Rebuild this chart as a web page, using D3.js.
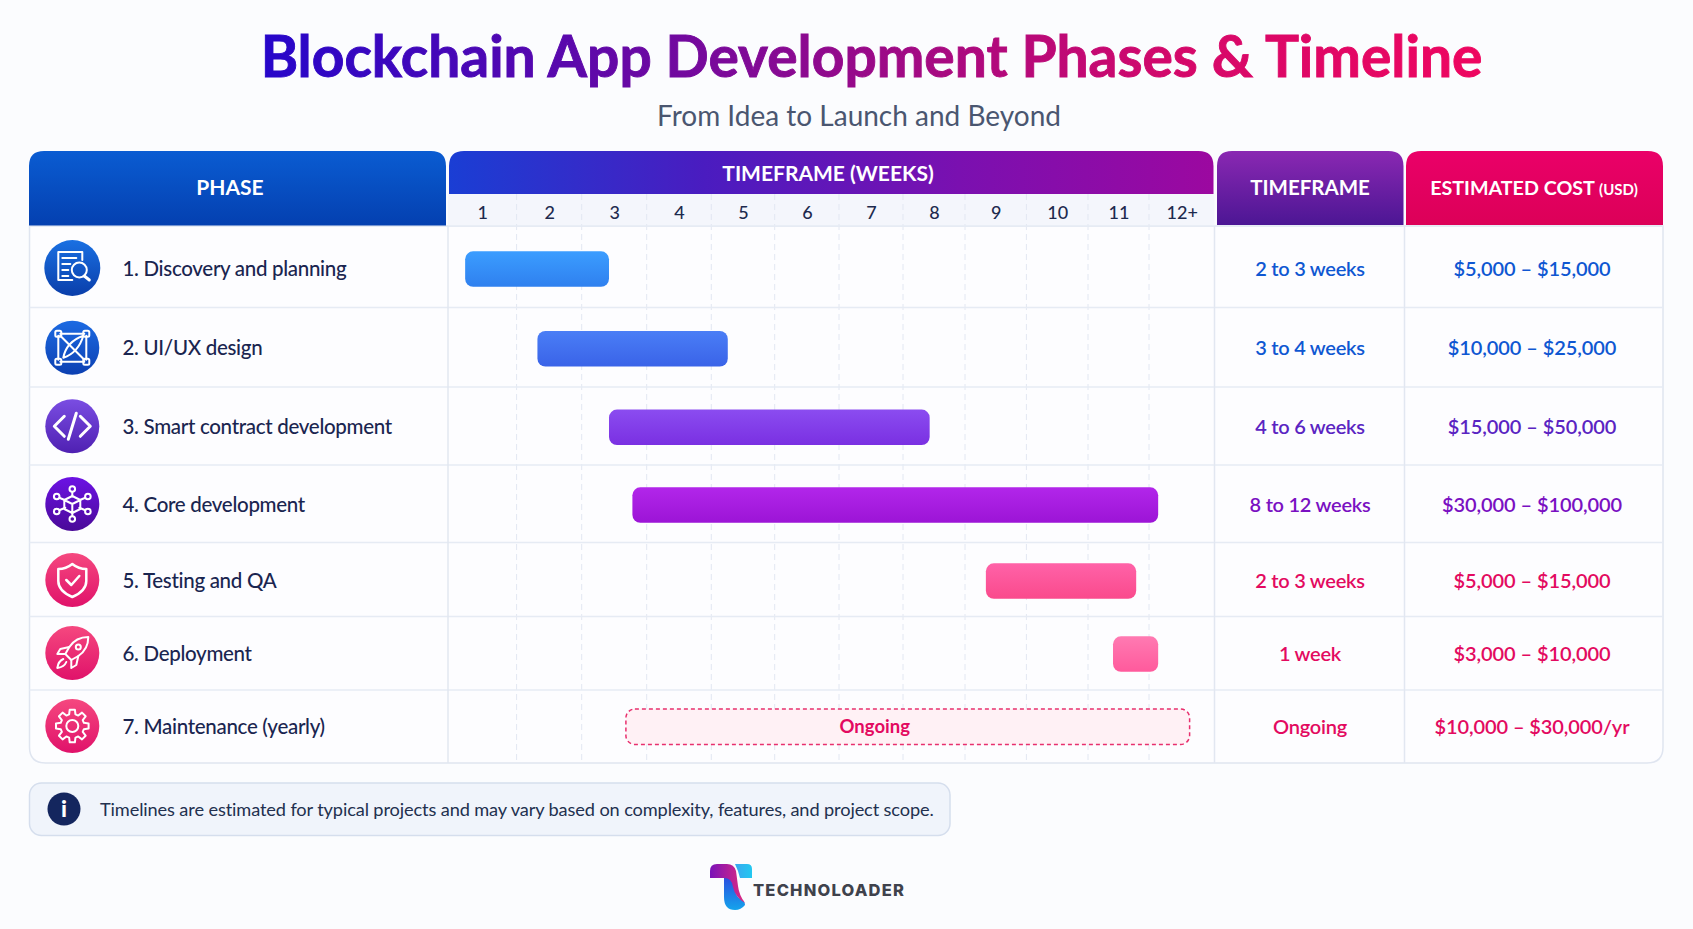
<!DOCTYPE html>
<html>
<head>
<meta charset="utf-8">
<title>Blockchain App Development Phases & Timeline</title>
<script src="https://cdn.jsdelivr.net/npm/d3@7"></script>
<style>
  html, body { margin: 0; padding: 0; background: #fbfcfe; }
  svg { display: block; font-family: Lato, "Noto Sans", sans-serif; }
</style>
</head>
<body>
<svg id="chart" width="1693" height="929"></svg>
<script>
// chart data
const phases = ['1. Discovery and planning', '2. UI/UX design', '3. Smart contract development', '4. Core development', '5. Testing and QA', '6. Deployment', '7. Maintenance (yearly)'];
const weekLabels = ['1', '2', '3', '4', '5', '6', '7', '8', '9', '10', '11', '12+'];
const startWeeks = [0.25, 1.32, 2.42, 2.78, 8.34, 10.41, 2.68];
const endWeeks = [2.42, 4.26, 7.43, 11.14, 10.79, 11.14, 11.62];
const timeframes = ['2 to 3 weeks', '3 to 4 weeks', '4 to 6 weeks', '8 to 12 weeks', '2 to 3 weeks', '1 week', 'Ongoing'];
const costs = ['$5,000 – $15,000', '$10,000 – $25,000', '$15,000 – $50,000', '$30,000 – $100,000', '$5,000 – $15,000', '$3,000 – $10,000', '$10,000 – $30,000/yr'];
const barStatus = ['solid', 'solid', 'solid', 'solid', 'solid', 'solid', 'ongoing'];

// styles, one per row
const barTop = ['#3b9dff', '#4a7ef6', '#8b4cf0', '#b226ea', '#ff62a8', '#ff7ab2', '#fff1f5'];
const barBottom = ['#2f80ef', '#3a63e8', '#7a30e2', '#9c14d6', '#fa4a8c', '#ff5a9c', '#fff1f5'];
const iconTop = ['#1a70e2', '#1c6ae2', '#7a4de2', '#6c12e4', '#f5487f', '#f5487f', '#f5487f'];
const iconBottom = ['#0a3eaa', '#0c40b2', '#4f20b2', '#4a0a98', '#e0126a', '#e0126a', '#e0126a'];
const textColors = ['#0f57d2', '#0f57d2', '#5a24c2', '#7a10c2', '#e30a60', '#e30a60', '#e30a60'];

// layout (the source image has slightly uneven columns and rows)
const weekEdges = [448, 516.6, 581.7, 646.7, 711.3, 774.7, 839, 903, 965, 1026.4, 1088, 1149, 1214.5];
const rowEdges = [226, 307.5, 387, 465, 542.4, 616.4, 690, 763];
const rowCenters = [269, 348.7, 427.3, 505, 581, 654, 727];
const tableLeft = 29.5, tableRight = 1663, tableTop = 151;
const colTimeframe = 1214.5, colCost = 1404.5;

const svg = d3.select('#chart');
const defs = svg.append('defs');

const x = d3.scaleLinear().domain(d3.range(weekEdges.length)).range(weekEdges);
const rowMid = d3.scaleOrdinal().domain(d3.range(phases.length)).range(rowCenters);

function linearGradient(id, stops, horizontal, coords) {
  const g = defs.append('linearGradient').attr('id', id);
  if (coords) {
    g.attr('gradientUnits', 'userSpaceOnUse').attr('x1', coords[0]).attr('x2', coords[1]).attr('y1', 0).attr('y2', 0);
  } else if (horizontal) {
    g.attr('x1', 0).attr('x2', 1).attr('y1', 0).attr('y2', 0);
  } else {
    g.attr('x1', 0).attr('x2', 0).attr('y1', 0).attr('y2', 1);
  }
  stops.forEach((c, i) => g.append('stop').attr('offset', i / (stops.length - 1)).attr('stop-color', c));
}

linearGradient('titleGrad', ['#2606ca', '#5a08ac', '#9a0a88', '#d4086a', '#ee0660'], true, [262, 1481]);
linearGradient('phaseHead', ['#0a5cd2', '#0440b0']);
linearGradient('weeksHead', ['#1a3ed4', '#4a1cc0', '#7a10b0', '#9c08a0'], true);
linearGradient('tfHead', ['#8a28b2', '#4c1694']);
linearGradient('costHead', ['#ea0068', '#dc0058']);
linearGradient('logoLeft', ['#7a12b8', '#e02a80'], true);
linearGradient('logoRight', ['#3aa8f0', '#22c8f0'], true);
linearGradient('logoStem', ['#2a50e0', '#14a4ec']);
phases.forEach((p, i) => {
  linearGradient('bar' + i, [barTop[i], barBottom[i]]);
  linearGradient('icon' + i, [iconTop[i], iconBottom[i]]);
});

// rectangle with only its top corners rounded
function topRounded(x0, y0, x1, y1, r) {
  return `M${x0},${y1}V${y0 + r}Q${x0},${y0} ${x0 + r},${y0}H${x1 - r}Q${x1},${y0} ${x1},${y0 + r}V${y1}Z`;
}

// title
svg.append('text').attr('x', 871.5).attr('y', 77).attr('text-anchor', 'middle')
  .attr('font-size', 56.9).attr('font-weight', 700).attr('fill', 'url(#titleGrad)')
  .attr('stroke', 'url(#titleGrad)').attr('stroke-width', 0.9)
  .text('Blockchain App Development Phases & Timeline');
svg.append('text').attr('x', 859).attr('y', 126).attr('text-anchor', 'middle')
  .attr('font-size', 28).attr('fill', '#4a5670')
  .text('From Idea to Launch and Beyond');

// table body
svg.append('path')
  .attr('d', `M${tableLeft},${rowEdges[0]}V${763 - 16}Q${tableLeft},763 ${tableLeft + 16},763H${tableRight - 16}Q${tableRight},763 ${tableRight},${763 - 16}V${rowEdges[0]}Z`)
  .attr('fill', '#fdfdff').attr('stroke', '#dfe5f0').attr('stroke-width', 1.5);

// week strip under the header
svg.append('rect').attr('x', x(0)).attr('y', 194).attr('width', x(12) - x(0)).attr('height', 32).attr('fill', '#f4f6fc');

// week gridlines
svg.append('g').selectAll('line').data(d3.range(1, 12)).join('line')
  .attr('x1', (d) => x(d)).attr('x2', (d) => x(d))
  .attr('y1', 194).attr('y2', 763)
  .attr('stroke', '#e2e7f2').attr('stroke-width', 1).attr('stroke-dasharray', '6 4');

// row lines
svg.append('g').selectAll('line').data(rowEdges.slice(0, -1)).join('line')
  .attr('x1', tableLeft).attr('x2', tableRight)
  .attr('y1', (d) => d).attr('y2', (d) => d)
  .attr('stroke', '#e6ebf4').attr('stroke-width', 1.5);

// column lines
svg.append('g').selectAll('line').data([x(0), colTimeframe, colCost]).join('line')
  .attr('x1', (d) => d).attr('x2', (d) => d)
  .attr('y1', rowEdges[0]).attr('y2', 763)
  .attr('stroke', '#e2e7f1').attr('stroke-width', 1.5);

// header blocks
svg.append('path').attr('d', topRounded(29, tableTop, 446, 225.5, 15)).attr('fill', 'url(#phaseHead)');
svg.append('path').attr('d', topRounded(449, tableTop, 1213.5, 194, 15)).attr('fill', 'url(#weeksHead)');
svg.append('path').attr('d', topRounded(1217, tableTop, 1403.5, 225, 15)).attr('fill', 'url(#tfHead)');
svg.append('path').attr('d', topRounded(1406, tableTop, 1663, 225, 15)).attr('fill', 'url(#costHead)');

const headText = svg.append('g').attr('fill', '#fff').attr('font-weight', 700).attr('font-size', 21).attr('text-anchor', 'middle');
headText.append('text').attr('x', 230).attr('y', 195).text('PHASE');
headText.append('text').attr('x', 828).attr('y', 180.5).text('TIMEFRAME (WEEKS)');
headText.append('text').attr('x', 1310).attr('y', 195).attr('font-size', 20.5).text('TIMEFRAME');
const costHead = headText.append('text').attr('x', 1534).attr('y', 194.5).attr('font-size', 19.7);
costHead.append('tspan').text('ESTIMATED COST ');
costHead.append('tspan').attr('font-size', 15).text('(USD)');

// week labels
const axis = d3.axisBottom(x)
  .tickValues(weekLabels.map((d, i) => i + 0.5))
  .tickFormat((d, i) => weekLabels[i])
  .tickSize(0).tickPadding(0);
const axisG = svg.append('g').attr('transform', 'translate(0,206)').call(axis);
axisG.select('.domain').remove();
axisG.selectAll('text').attr('font-family', 'Lato, sans-serif').attr('font-size', 18).attr('font-weight', 500).attr('fill', '#1d2a4e');

// phase names
svg.append('g').selectAll('text').data(phases).join('text')
  .attr('x', 122.5).attr('y', (d, i) => rowMid(i) + 6.5)
  .attr('font-size', 20.5).attr('font-weight', 500).attr('letter-spacing', -0.3).attr('fill', '#1a2550')
  .text((d) => d);

// bars
const solid = d3.range(phases.length).filter((i) => barStatus[i] === 'solid');
svg.append('g').selectAll('rect').data(solid).join('rect')
  .attr('x', (i) => x(startWeeks[i])).attr('width', (i) => x(endWeeks[i]) - x(startWeeks[i]))
  .attr('y', (i) => rowMid(i) - 17.7).attr('height', 35.5).attr('rx', 8)
  .attr('fill', (i) => `url(#bar${i})`);

const ongoing = d3.range(phases.length).filter((i) => barStatus[i] === 'ongoing');
svg.append('g').selectAll('rect').data(ongoing).join('rect')
  .attr('x', (i) => x(startWeeks[i])).attr('width', (i) => x(endWeeks[i]) - x(startWeeks[i]))
  .attr('y', (i) => rowMid(i) - 18).attr('height', 35.5).attr('rx', 9)
  .attr('fill', (i) => barTop[i]).attr('stroke', '#e8306e').attr('stroke-width', 1.5).attr('stroke-dasharray', '4 3');
svg.append('g').selectAll('text').data(ongoing).join('text')
  .attr('x', (i) => (x(startWeeks[i]) + x(endWeeks[i])) / 2 - 33).attr('y', (i) => rowMid(i) + 6)
  .attr('text-anchor', 'middle').attr('font-size', 18.5).attr('font-weight', 700).attr('fill', '#e30a60')
  .text('Ongoing');

// right columns
svg.append('g').selectAll('text').data(timeframes).join('text')
  .attr('x', 1310).attr('y', (d, i) => rowMid(i) + 6.5)
  .attr('text-anchor', 'middle').attr('font-size', 20).attr('font-weight', 600).attr('letter-spacing', -0.25)
  .attr('fill', (d, i) => textColors[i]).text((d) => d);
svg.append('g').selectAll('text').data(costs).join('text')
  .attr('x', 1532).attr('y', (d, i) => rowMid(i) + 6.5)
  .attr('text-anchor', 'middle').attr('font-size', 20).attr('font-weight', 600).attr('letter-spacing', -0.1)
  .attr('fill', (d, i) => textColors[i]).text((d) => d);

// gear outline for the maintenance icon
function gearPath(teeth, outer, inner) {
  const pts = [];
  for (let t = 0; t < teeth; t++) {
    const a = (t / teeth) * 2 * Math.PI;
    const s = (2 * Math.PI) / teeth;
    [[-0.34, inner], [-0.2, outer], [0.2, outer], [0.34, inner]].forEach(([o, r]) => {
      pts.push([r * Math.sin(a + o * s), -r * Math.cos(a + o * s)]);
    });
  }
  return d3.line().curve(d3.curveLinearClosed)(pts);
}

const iconDraw = [
  (g) => {
    g.append('path').attr('d', 'M-14,-16V12H0M-14,-16H10V-8');
    g.append('path').attr('d', 'M-10,-10H4M-10,-4H-2M-10,2H-4M-10,8H-4');
    g.append('circle').attr('cx', 7).attr('cy', 2).attr('r', 7.5);
    g.append('path').attr('d', 'M12,8L17,12').attr('stroke-width', 3);
  },
  (g) => {
    g.append('path').attr('d', 'M-12,-14H12M14,-12V12M12,14H-12M-14,12V-12M-12,-12L12,12');
    g.append('path').attr('d', 'M-9,10Q-6,-6 11,-12Q6,5 -9,10Z');
    [[-14, -14], [14, -14], [-14, 14], [14, 14]].forEach(([cx, cy]) => {
      g.append('rect').attr('x', cx - 3).attr('y', cy - 3).attr('width', 6).attr('height', 6).attr('rx', 1.5);
    });
  },
  (g) => {
    g.append('path').attr('d', 'M-8,-10L-18,0L-8,10M8,-10L18,0L8,10M4,-13L-4,13').attr('stroke-width', 3);
  },
  (g) => {
    g.append('path').attr('d', 'M0,-8L8,-4V5L0,9L-8,5V-4ZM-8,-4L0,0L8,-4M0,0V9');
    d3.range(6).forEach((k) => {
      const a = (k * Math.PI) / 3;
      const px = 18 * Math.sin(a), py = -15 * Math.cos(a);
      g.append('path').attr('d', `M${px * 0.45},${py * 0.5}L${px * 0.8},${py * 0.8}`);
      g.append('circle').attr('cx', px).attr('cy', py).attr('r', 2.8);
    });
  },
  (g) => {
    g.append('path').attr('d', 'M0,-16C5,-12 10,-11 14,-11V1C14,9 7,14 0,17C-7,14 -14,9 -14,1V-11C-10,-11 -5,-12 0,-16Z').attr('stroke-width', 2.5);
    g.append('path').attr('d', 'M-6,0L-1,5L7,-4').attr('stroke-width', 2.5);
  },
  (g) => {
    g.append('path').attr('d', 'M16,-16C8,-16 1,-12 -3,-6L-7,1L-1,7L6,3C12,-1 16,-8 16,-16Z');
    g.append('circle').attr('cx', 6).attr('cy', -6).attr('r', 2.5);
    g.append('path').attr('d', 'M-3,-6L-12,-4L-15,1L-7,1M6,3L4,12L-1,15L-1,7M-9,6Q-14,8 -15,15Q-8,14 -6,9');
  },
  (g) => {
    g.append('path').attr('d', gearPath(8, 16.5, 12));
    g.append('circle').attr('r', 6);
  },
];

// icon circles
const icons = svg.append('g').selectAll('g').data(phases).join('g')
  .attr('transform', (d, i) => `translate(72.3,${rowMid(i) - 1})`);
icons.append('circle').attr('r', (d, i) => (i === 0 ? 28 : 27)).attr('fill', (d, i) => `url(#icon${i})`);
icons.append('g')
  .attr('fill', 'none').attr('stroke', '#fff').attr('stroke-width', 2).attr('stroke-linecap', 'round').attr('stroke-linejoin', 'round')
  .each(function (d, i) { iconDraw[i](d3.select(this)); });

// note box
svg.append('rect').attr('x', 29.5).attr('y', 783).attr('width', 920.5).attr('height', 52.5).attr('rx', 12)
  .attr('fill', '#f0f4fb').attr('stroke', '#d5deed').attr('stroke-width', 1.5);
svg.append('circle').attr('cx', 64).attr('cy', 809).attr('r', 16.5).attr('fill', '#14265e');
svg.append('text').attr('x', 64).attr('y', 817).attr('text-anchor', 'middle')
  .attr('font-size', 23).attr('font-weight', 900).attr('fill', '#fff').text('i');
svg.append('text').attr('x', 100).attr('y', 816)
  .attr('font-size', 18.2).attr('letter-spacing', -0.12).attr('fill', '#22304f')
  .text('Timelines are estimated for typical projects and may vary based on complexity, features, and project scope.');

// logo
const logo = svg.append('g');
logo.append('path').attr('d', 'M735,864H747Q752,864 752,869V878H740Q738,870 735,864Z').attr('fill', 'url(#logoRight)');
logo.append('path').attr('d', 'M724,878H735V890Q736,897 741,899Q745,901 745,905Q741,910 735,910Q724,910 724,897Z').attr('fill', 'url(#logoStem)');
logo.append('path').attr('d', 'M710,878V871Q710,864 717,864H727Q734,864 736,871L738,886Q739,895 745,903Q735,897 733,887Q732,878 724,878Z').attr('fill', 'url(#logoLeft)');
logo.append('text').attr('x', 753).attr('y', 896)
  .attr('font-family', 'Inter, sans-serif').attr('font-size', 16.5).attr('font-weight', 800).attr('letter-spacing', 1.2)
  .attr('fill', '#3f424c').text('TECHNOLOADER');
</script>
</body>
</html>
